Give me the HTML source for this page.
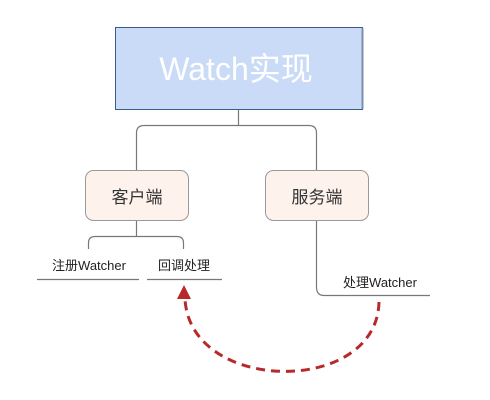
<!DOCTYPE html>
<html><head><meta charset="utf-8"><style>
html,body{margin:0;padding:0;background:#fff;width:490px;height:400px;overflow:hidden}
</style></head><body>
<svg width="490" height="400" xmlns="http://www.w3.org/2000/svg" style="font-family:'Liberation Sans','Noto Sans CJK SC',sans-serif">
<rect x="115.5" y="27.5" width="247" height="82" fill="#c9dbf7" stroke="#3d5a8a" stroke-width="1"/>
<line x1="362.5" y1="28" x2="362.5" y2="109" stroke="#7a8fb0" stroke-width="2"/>
<text x="236" y="80" font-size="32" fill="#fff" text-anchor="middle">Watch实现</text>
<g fill="none" stroke="#777" stroke-width="1.2">
<line x1="238.5" y1="110" x2="238.5" y2="125"/>
<path d="M136.5,170 V133 Q136.5,125.5 144,125.5 H309 Q316.5,125.5 316.5,133 V170"/>
<line x1="136.5" y1="220" x2="136.5" y2="236"/>
<path d="M88.5,249 V243 Q88.5,236.5 95,236.5 H177 Q183.5,236.5 183.5,243 V249"/>
<path d="M316.5,220 V287 Q316.5,295.5 324,295.5 H430"/>
<line x1="37" y1="279.5" x2="139" y2="279.5"/>
<line x1="147" y1="279.5" x2="222" y2="279.5"/>
</g>
<rect x="85.5" y="170.5" width="103" height="50" rx="8" fill="#fdf2ec" stroke="#999" stroke-width="1"/>
<rect x="265.5" y="170.5" width="103" height="50" rx="8" fill="#fdf2ec" stroke="#999" stroke-width="1"/>
<text x="137" y="203" font-size="17" fill="#333" text-anchor="middle">客户端</text>
<text x="317" y="203" font-size="17" fill="#333" text-anchor="middle">服务端</text>
<text x="89" y="270" font-size="13" fill="#222" text-anchor="middle">注册Watcher</text>
<text x="184" y="270" font-size="13" fill="#222" text-anchor="middle">回调处理</text>
<text x="380" y="287" font-size="13" fill="#222" text-anchor="middle">处理Watcher</text>
<path d="M379,302 C377,396 190,394 185,299" fill="none" stroke="#b72a2a" stroke-width="3" stroke-dasharray="9,6"/>
<polygon points="184,285 177,299 191,299" fill="#b72a2a"/>
</svg>
</body></html>
